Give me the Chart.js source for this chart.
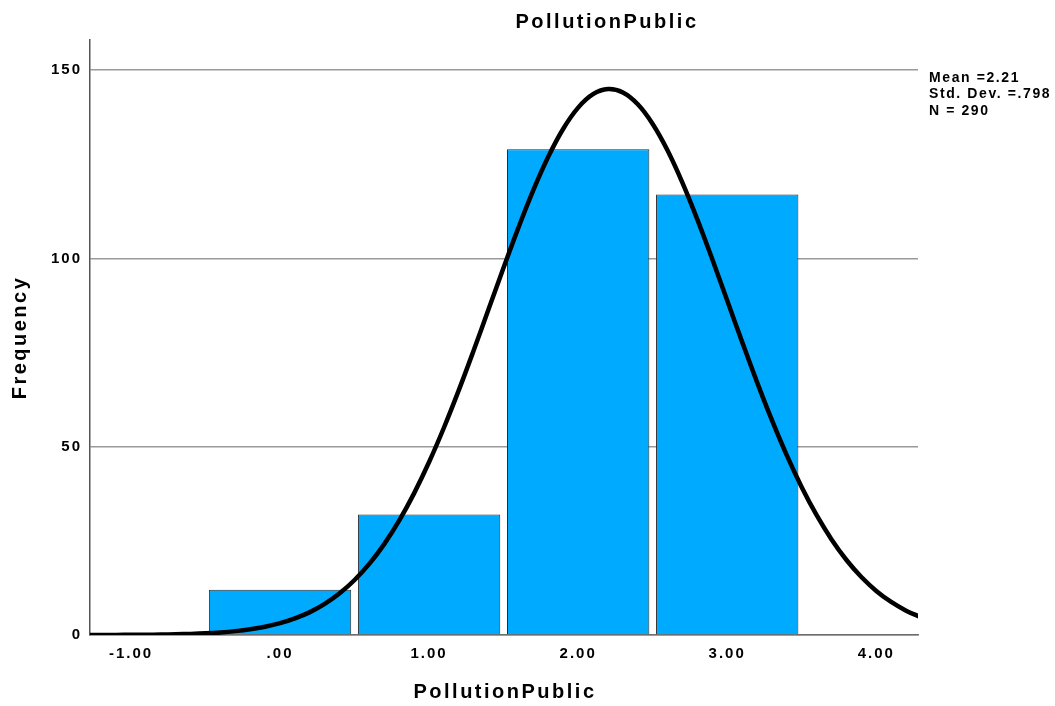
<!DOCTYPE html>
<html>
<head>
<meta charset="utf-8">
<title>PollutionPublic</title>
<script src="https://cdn.jsdelivr.net/npm/chart.js@4/dist/chart.umd.min.js"></script>
<style>
  html, body { margin: 0; padding: 0; background: #ffffff; }
  #wrap { width: 1055px; height: 706px; }
</style>
</head>
<body>
<div id="wrap"><canvas id="c" width="1055" height="706"></canvas></div>
<script>
// Histogram bins (bin centres) and their frequencies
const bins = [0, 1, 2, 3];
const counts = [12, 32, 129, 117];

// Fitted normal curve (Mean 2.21, SD .798, N 290), sampled every 0.1
const curveX = [-1.3, -1.2, -1.1, -1.0, -0.9, -0.8, -0.7, -0.6, -0.5, -0.4,
                -0.3, -0.2, -0.1, 0.0, 0.1, 0.2, 0.3, 0.4, 0.5, 0.6,
                0.7, 0.8, 0.9, 1.0, 1.1, 1.2, 1.3, 1.4, 1.5, 1.6,
                1.7, 1.8, 1.9, 2.0, 2.1, 2.2, 2.3, 2.4, 2.5, 2.6,
                2.7, 2.8, 2.9, 3.0, 3.1, 3.2, 3.3, 3.4, 3.5, 3.6,
                3.7, 3.8, 3.9, 4.0, 4.1, 4.2, 4.3];
const curveY = [0.009, 0.016, 0.027, 0.044, 0.073, 0.118, 0.188, 0.294, 0.454, 0.689,
                1.031, 1.516, 2.197, 3.133, 4.399, 6.076, 8.265, 11.07, 14.60, 18.94,
                24.20, 30.43, 37.68, 45.93, 55.10, 65.08, 75.67, 86.61, 97.59, 108.25,
                118.20, 127.05, 134.44, 140.05, 143.61, 144.97, 144.06, 140.93, 135.71, 128.66,
                120.07, 110.31, 99.76, 88.82, 77.84, 67.16, 57.04, 47.69, 39.25, 31.81,
                25.37, 19.91, 15.39, 11.71, 8.775, 6.469, 4.699];

// Axis ticks and labels
const xTicks = [-1, 0, 1, 2, 3, 4];
const xTickLabels = ['-1.00', '.00', '1.00', '2.00', '3.00', '4.00'];
const yTicks = [0, 50, 100, 150];
const yTickLabels = ['0', '50', '100', '150'];

// Text
const chartTitle = 'PollutionPublic';
const xTitle = 'PollutionPublic';
const yTitle = 'Frequency';
const statsLines = ['Mean =2.21', 'Std. Dev. =.798', 'N = 290'];

const FONT = '"Liberation Sans", Arial, Helvetica, sans-serif';

// Titles and the statistics box, drawn onto the canvas
const textPlugin = {
  id: 'textPlugin',
  beforeUpdate(chart) { chart.ctx.letterSpacing = '2px'; },
  beforeDraw(chart) { chart.ctx.letterSpacing = '2px'; },
  afterDraw(chart) {
    const ctx = chart.ctx;
    const a = chart.chartArea;
    ctx.save();
    ctx.fillStyle = '#000000';
    ctx.font = 'bold 20px ' + FONT;
    ctx.letterSpacing = '2.5px';
    ctx.textAlign = 'center';
    ctx.textBaseline = 'middle';
    ctx.fillText(chartTitle, 607, 22);
    ctx.fillText(xTitle, (a.left + a.right) / 2 + 1, 692);
    ctx.save();
    ctx.translate(20, (a.top + a.bottom) / 2);
    ctx.rotate(-Math.PI / 2);
    ctx.fillText(yTitle, 0, 0);
    ctx.restore();

    ctx.font = 'bold 14px ' + FONT;
    ctx.letterSpacing = '1.6px';
    ctx.textAlign = 'left';
    statsLines.forEach((s, i) => ctx.fillText(s, 929, 78 + i * 16.5));
    ctx.restore();
  }
};

new Chart(document.getElementById('c'), {
  data: {
    datasets: [
      {
        type: 'line',
        data: curveX.map((x, i) => ({ x: x, y: curveY[i] })),
        borderColor: '#000000',
        borderWidth: 4.5,
        pointRadius: 0,
        tension: 0.4,
        fill: false,
        clip: 0,
        order: 0
      },
      {
        type: 'bar',
        data: bins.map((b, i) => ({ x: b, y: counts[i] })),
        backgroundColor: '#00AAFF',
        borderColor: '#2a2a2a',
        borderWidth: 1,
        borderSkipped: 'start',
        barPercentage: 0.955,
        categoryPercentage: 1,
        order: 1
      }
    ]
  },
  options: {
    responsive: false,
    animation: false,
    devicePixelRatio: 1,
    layout: { padding: { top: 40, right: 137, left: 0, bottom: 0 } },
    plugins: {
      legend: { display: false },
      title: { display: false },
      tooltip: { enabled: false }
    },
    scales: {
      x: {
        type: 'linear',
        offset: false,
        min: -1.275,
        max: 4.28,
        afterBuildTicks: s => { s.ticks = xTicks.map(v => ({ value: v })); },
        afterFit: s => { s.height = 71; },
        grid: { display: false, drawTicks: false, offset: false },
        border: { display: true, color: '#6e6e6e', width: 1.5 },
        ticks: {
          color: '#000000',
          padding: 10,
          maxRotation: 0,
          autoSkip: false,
          font: { family: FONT, size: 15, weight: 'bold' },
          callback: v => xTickLabels[xTicks.indexOf(v)]
        }
      },
      y: {
        type: 'linear',
        min: 0,
        max: 158,
        afterBuildTicks: s => { s.ticks = yTicks.map(v => ({ value: v })); },
        afterFit: s => { s.width = 90; },
        grid: { display: true, drawTicks: false, color: '#9a9a9a', lineWidth: 1.5 },
        border: { display: true, color: '#555555', width: 1.5 },
        ticks: {
          color: '#000000',
          padding: 8,
          autoSkip: false,
          font: { family: FONT, size: 15, weight: 'bold' },
          callback: v => yTickLabels[yTicks.indexOf(v)]
        }
      }
    }
  },
  plugins: [textPlugin]
});
</script>
</body>
</html>
